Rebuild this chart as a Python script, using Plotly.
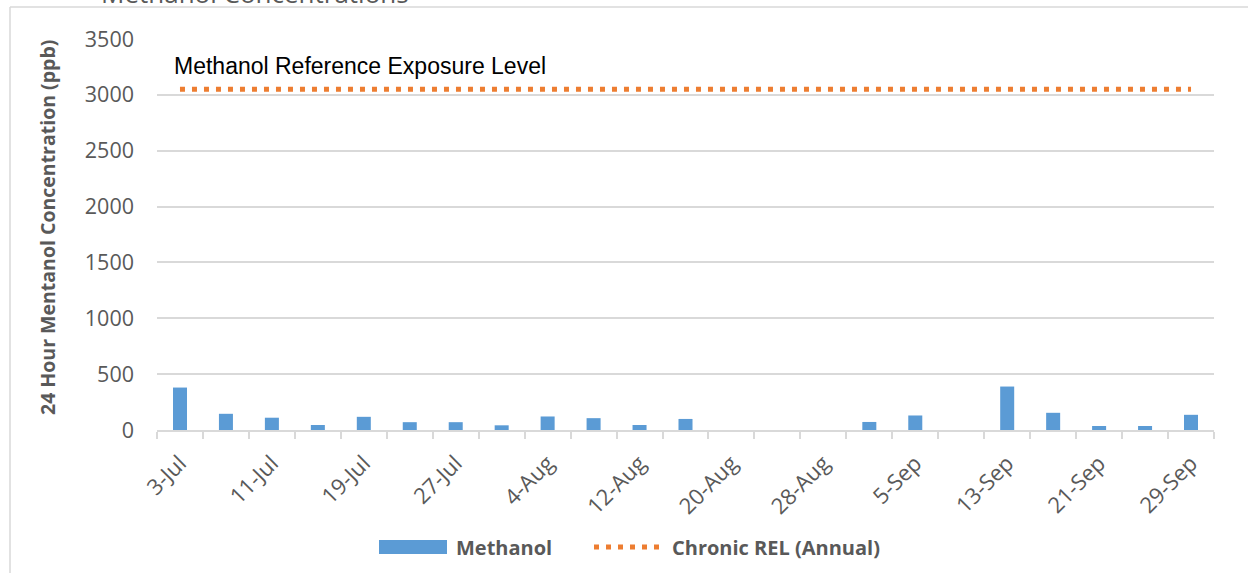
import plotly.graph_objects as go

# 24 h samples, every 4 days
dates = ["3-Jul", "7-Jul", "11-Jul", "15-Jul", "19-Jul", "23-Jul", "27-Jul", "31-Jul",
         "4-Aug", "8-Aug", "12-Aug", "16-Aug", "20-Aug", "24-Aug", "28-Aug",
         "1-Sep", "5-Sep", "9-Sep", "13-Sep", "17-Sep", "21-Sep", "25-Sep", "29-Sep"]
methanol = [380, 145, 110, 45, 118, 70, 70, 42,
            121, 106, 45, 99, 0, 0, 0,
            72, 130, 0, 389, 154, 36, 36, 136]
rel_ppb = 3050
tick_text = [d if i % 2 == 0 else "" for i, d in enumerate(dates)]

BLUE = "#5B9BD5"
ORANGE = "#ED7D31"
GRID = "#D9D9D9"
TXT = "#595959"
REL_DASH = "5px,7px"

# plot area in pixels: x 157..1214, y 39..430
L, R, T, B = 157, 34, 39, 143
PW, PH = 1248 - L - R, 573 - T - B


def px(x):
    return (x - L) / PW


def py(y):
    return (T + PH - y) / PH


fig = go.Figure()
fig.add_trace(go.Bar(
    x=dates, y=methanol, name="Methanol",
    marker=dict(color=BLUE, line=dict(width=0)),
))
fig.add_trace(go.Scatter(
    x=[dates[0], dates[-1]], y=[rel_ppb, rel_ppb],
    mode="lines", name="Chronic REL (Annual)",
    line=dict(color=ORANGE, width=5, dash=REL_DASH),
))

ann_base = dict(xref="paper", yref="paper", showarrow=False, yanchor="middle")
ann = [
    dict(ann_base, x=px(172), y=py(66), text="Methanol Reference Exposure Level",
         xanchor="left",
         font=dict(family="Liberation Sans", size=23, color="#000000")),
    dict(ann_base, x=px(47), y=py(228), text="<b>24 Hour Mentanol Concentration (ppb)</b>",
         textangle=-90, xanchor="center",
         font=dict(family="Open Sans", size=19.5, color=TXT)),
    # chart title, mostly cut off by the top edge
    dict(ann_base, x=px(255), y=py(-7), text="Methanol Concentrations",
         xanchor="center",
         font=dict(family="Open Sans", size=26, color=TXT)),
    dict(ann_base, x=px(454), y=py(547), text="<b>Methanol</b>",
         xanchor="left",
         font=dict(family="Open Sans", size=20, color=TXT)),
    dict(ann_base, x=px(670), y=py(547), text="<b>Chronic REL (Annual)</b>",
         xanchor="left",
         font=dict(family="Open Sans", size=20, color=TXT)),
]

shapes = [
    # outer chart border (clipped by the window)
    dict(type="line", xref="paper", yref="paper", x0=px(10), x1=px(10), y0=py(7), y1=py(580),
         line=dict(color=GRID, width=1.5)),
    dict(type="line", xref="paper", yref="paper", x0=px(10), x1=px(1260), y0=py(7), y1=py(7),
         line=dict(color=GRID, width=1.5)),
    # legend keys
    dict(type="rect", xref="paper", yref="paper", x0=px(379), x1=px(447), y0=py(540), y1=py(554),
         fillcolor=BLUE, line=dict(width=0)),
    dict(type="line", xref="paper", yref="paper", x0=px(594), x1=px(664), y0=py(547), y1=py(547),
         line=dict(color=ORANGE, width=5, dash=REL_DASH)),
]

fig.update_layout(
    width=1248, height=573,
    margin=dict(l=L, r=R, t=T, b=B),
    paper_bgcolor="white", plot_bgcolor="white",
    showlegend=False,
    bargap=0.695,
    annotations=ann,
    shapes=shapes,
    xaxis=dict(
        type="category", tickmode="array", tickvals=dates, ticktext=tick_text,
        tickson="boundaries", ticks="outside", ticklen=7, tickcolor=GRID, tickwidth=1.5,
        showline=True, linecolor=GRID, linewidth=1.5, showgrid=False,
        tickangle=-45, ticklabelstandoff=10,
        tickfont=dict(family="Open Sans", size=22, color=TXT),
    ),
    yaxis=dict(
        range=[0, 3500], dtick=500, showgrid=True, gridcolor=GRID, gridwidth=1.5,
        zeroline=False, showline=False, ticks="", ticklabelstandoff=22,
        tickfont=dict(family="Open Sans", size=21.5, color=TXT),
    ),
)

fig.write_html("out.html", config={"displayModeBar": False},
               post_script="document.body.style.margin='0px';")
